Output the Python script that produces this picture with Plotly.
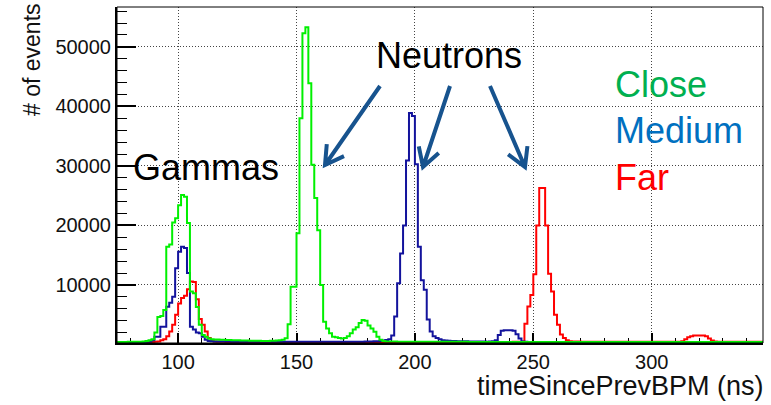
import math
import plotly.graph_objects as go

# Histogram binning (ns): 219 bins of 1.25 ns starting at 73.75 ns
BIN_START = 73.75
BIN_WIDTH = 1.25

# Counts per bin, detector at close distance
close_counts = [
    420, 420, 430, 430, 440, 440, 450, 460, 480, 520, 600,
    700, 900, 2000, 4600, 4800, 5800, 16400, 16800, 20500, 21200, 23400,
    25100, 24800, 20400, 8900, 8600, 6300, 3300, 1600, 1300, 1000, 900,
    850, 820, 800, 780, 760, 740, 720, 700, 700, 680, 660, 650,
    640, 630, 620, 610, 600, 600, 600, 610, 620, 650, 700, 800,
    1040, 3400, 9700, 9700, 18700, 38000, 52300, 53300, 43900, 30200, 24600, 19200,
    10000, 3800, 2700, 1900, 1300, 1200, 1100, 1000, 1100, 1400, 1900, 2500,
    2900, 3600, 4100, 4000, 3200, 2700, 2150, 1300, 800, 600, 520, 500,
    500, 490, 480, 480, 470, 470, 460, 460, 460, 450,
    450, 450, 450, 450, 450, 440, 440, 440, 440, 440,
    440, 440, 440, 440, 440, 440, 430, 430, 430, 430,
    430, 430, 430, 430, 430, 430, 430, 430, 430, 430,
    430, 430, 430, 430, 430, 430, 430, 430, 430, 430,
    430, 430, 430, 430, 430, 430, 430, 430, 430, 430,
    430, 430, 420, 420, 420, 420, 420, 420, 420, 420,
    420, 420, 420, 420, 420, 420, 420, 420, 420, 420,
    420, 420, 420, 420, 420, 420, 420, 420, 420, 420,
    420, 420, 420, 420, 420, 420, 420, 420, 420, 420,
    420, 420, 420, 420, 420, 420, 420, 420, 420, 420,
    420, 420, 420, 420, 420, 420, 420, 420, 420, 420,
    420, 420, 420, 420, 420, 420,
]

# Counts per bin, detector at medium distance
medium_counts = [
    400, 400, 400, 400, 400, 400, 400, 410, 420, 430, 450, 500, 700,
    1300, 1300, 3000, 3000, 6350, 7000, 8000, 12800, 15600, 16400,
    16200, 12000, 3000, 2500, 2000, 1900, 1300, 800, 600, 550,
    520, 510, 500, 500, 490, 490, 480, 480, 470, 470,
    460, 460, 460, 450, 450, 450, 450, 450, 450, 450,
    450, 450, 450, 450, 450, 450, 450, 450, 450, 450,
    450, 450, 450, 450, 450, 450, 450, 450, 450, 450,
    450, 450, 450, 450, 450, 450, 460, 460, 470, 470,
    480, 490, 500, 520, 540, 560, 600, 650, 750, 900,
    1500, 4700, 10300, 15300, 20000, 30900, 38900, 38400, 30300, 16400,
    10800, 9200, 4200, 2200, 1400, 1100, 900, 700,
    650, 620, 600, 580, 560, 550, 540, 530, 520, 510,
    500, 500, 490, 490, 480, 500, 540,
    700, 1600, 2300, 2400, 2400, 2400, 2300, 1700, 1000, 500,
    450, 420, 410, 400, 400, 400, 400, 400, 400, 400,
    400, 400, 400, 400, 400, 400, 400, 400, 400, 400,
    400, 400, 400, 400, 400, 400, 400, 400, 400, 400,
    400, 400, 400, 400, 400, 400, 400, 400, 400, 400,
    400, 400, 400, 400, 400, 400, 400, 400, 400, 400,
    400, 400, 400, 400, 400, 400, 400, 400, 400, 400,
    400, 400, 400, 400, 400, 400, 400, 400, 400, 400,
    400, 400, 400, 400, 400, 400, 400, 400, 400, 400,
    400,
]

# Counts per bin, detector at far distance
far_counts = [
    400, 400, 400, 400, 400, 400, 400, 400, 400, 400, 410, 420, 430,
    450, 500, 700, 900, 1400, 2200, 3300, 5000, 6900, 7800, 8200,
    9300, 10600, 10500, 7600, 4300, 3300, 2200, 1100, 600, 500, 450,
    440, 440, 430, 430, 430, 430, 430, 430, 430, 430,
    430, 430, 430, 430, 430, 430, 430, 430, 430, 430,
    430, 430, 430, 430, 430, 430, 430, 430, 430, 430,
    430, 430, 430, 430, 430, 430, 430, 430, 430, 430,
    430, 430, 430, 430, 430, 430, 430, 430, 430, 430,
    430, 430, 430, 430, 430, 430, 430, 430, 430, 430,
    430, 430, 430, 430, 430, 430, 430, 430, 430, 430,
    430, 430, 430, 430, 430, 430, 430, 430, 430, 430,
    430, 430, 430, 430, 430, 430, 430, 430, 430, 430,
    430, 430, 430, 430, 430, 430, 430, 430, 430, 440,
    440, 450,
    500, 3500, 6400, 8300, 11800, 20000, 26300, 26300, 20000, 11900,
    8900, 5000, 3300, 1660, 1100, 700, 550,
    520, 500, 490, 480, 470, 460, 460, 450, 450, 450,
    450, 450, 450, 450, 450, 450, 450, 450, 450, 450,
    450, 450, 450, 450, 450, 450, 450, 450, 450, 450,
    450, 450, 450, 450, 460, 470, 480,
    550, 900, 1200, 1400, 1500, 1500, 1500, 1500, 1400, 1000, 650, 500,
    470, 460, 450, 450, 450, 450, 450, 450, 450, 450,
    450, 450, 450, 450, 450, 450,
]

assert len(close_counts) == len(medium_counts) == len(far_counts) == 219

n_bins = len(close_counts)
edges = [BIN_START + BIN_WIDTH * i for i in range(n_bins + 1)]

FONT = "Liberation Sans, Arial, Helvetica, sans-serif"
W, H = 771, 405
ML, MR, MT, MB = 117, 8, 7, 62
PW, PH = W - ML - MR, H - MT - MB


def px(x):
    return (x - ML) / PW


def py(y):
    return (MT + PH - y) / PH


fig = go.Figure()

# Draw order: far, medium, close (close ends up on top)
for name, counts, color in [
    ("Far", far_counts, "#ff0000"),
    ("Medium", medium_counts, "#13139c"),
    ("Close", close_counts, "#00f000"),
]:
    fig.add_trace(go.Scatter(
        x=edges,
        y=list(counts) + [counts[-1]],
        mode="lines",
        line=dict(color=color, width=2, shape="hv"),
        name=name,
        showlegend=False,
        hoverinfo="skip",
    ))

axis_common = dict(
    showline=True, linecolor="black", linewidth=2, mirror=False,
    ticks="inside", tickcolor="black", tickwidth=1.5,
    showgrid=True, gridcolor="#444", gridwidth=1, griddash="1px,2px",
    zeroline=False, layer="below traces",
    tickfont=dict(family=FONT, size=20, color="#111"),
)

fig.update_xaxes(
    range=[74.2, 347], tick0=0, dtick=50, ticklen=10,
    minor=dict(tick0=0, dtick=10, ticks="inside", ticklen=5,
               tickcolor="black", tickwidth=1.2, showgrid=False),
    **axis_common,
)
fig.update_yaxes(
    range=[250, 56700], tick0=0, dtick=10000, ticklen=19, tickformat="d",
    minor=dict(tick0=0, dtick=2000, ticks="inside", ticklen=10,
               tickcolor="black", tickwidth=1.2, showgrid=False),
    **axis_common,
)

shapes = [dict(type="rect", xref="paper", yref="paper", x0=0, x1=1, y0=0, y1=1,
               line=dict(color="black", width=1), layer="above")]


def arrow(x0, y0, x1, y1, head=21, ang=30):
    dx, dy = x0 - x1, y0 - y1
    L = math.hypot(dx, dy)
    ux, uy = dx / L, dy / L
    pts = []
    for s in (1, -1):
        a = math.radians(ang) * s
        rx = ux * math.cos(a) - uy * math.sin(a)
        ry = ux * math.sin(a) + uy * math.cos(a)
        pts.append((x1 + head * rx, y1 + head * ry))
    path = (f"M {px(x0)},{py(y0)} L {px(x1)},{py(y1)} "
            f"M {px(pts[0][0])},{py(pts[0][1])} L {px(x1)},{py(y1)} "
            f"L {px(pts[1][0])},{py(pts[1][1])}")
    return dict(type="path", xref="paper", yref="paper", path=path,
                line=dict(color="#17538e", width=4), layer="above")


shapes += [arrow(380, 86, 325, 165), arrow(450, 86, 423, 167), arrow(490, 86, 525, 167)]

annotations = [
    dict(text="Neutrons", x=px(374), y=py(55), color="black"),
    dict(text="Gammas", x=px(131), y=py(167), color="black"),
    dict(text="Close", x=px(613), y=py(85), color="#00b050"),
    dict(text="Medium", x=px(613), y=py(130), color="#0070c0"),
    dict(text="Far", x=px(613), y=py(177), color="#ff0000"),
]
annotations = [
    dict(text=a["text"], x=a["x"], y=a["y"], xref="paper", yref="paper",
         xanchor="left", yanchor="middle", showarrow=False,
         font=dict(family=FONT, size=36, color=a["color"]))
    for a in annotations
]
annotations += [
    dict(text="# of events", x=px(32), y=py(60), xref="paper", yref="paper",
         xanchor="center", yanchor="middle", textangle=-90, showarrow=False,
         font=dict(family=FONT, size=23, color="#111")),
    dict(text="timeSincePrevBPM (ns)", x=px(766), y=py(386), xref="paper", yref="paper",
         xanchor="right", yanchor="middle", showarrow=False,
         font=dict(family=FONT, size=27, color="#111")),
]

fig.update_layout(
    width=W, height=H,
    margin=dict(l=ML, r=MR, t=MT, b=MB, pad=0),
    paper_bgcolor="white", plot_bgcolor="white",
    shapes=shapes, annotations=annotations,
    showlegend=False,
)

fig.write_html("out.html")
